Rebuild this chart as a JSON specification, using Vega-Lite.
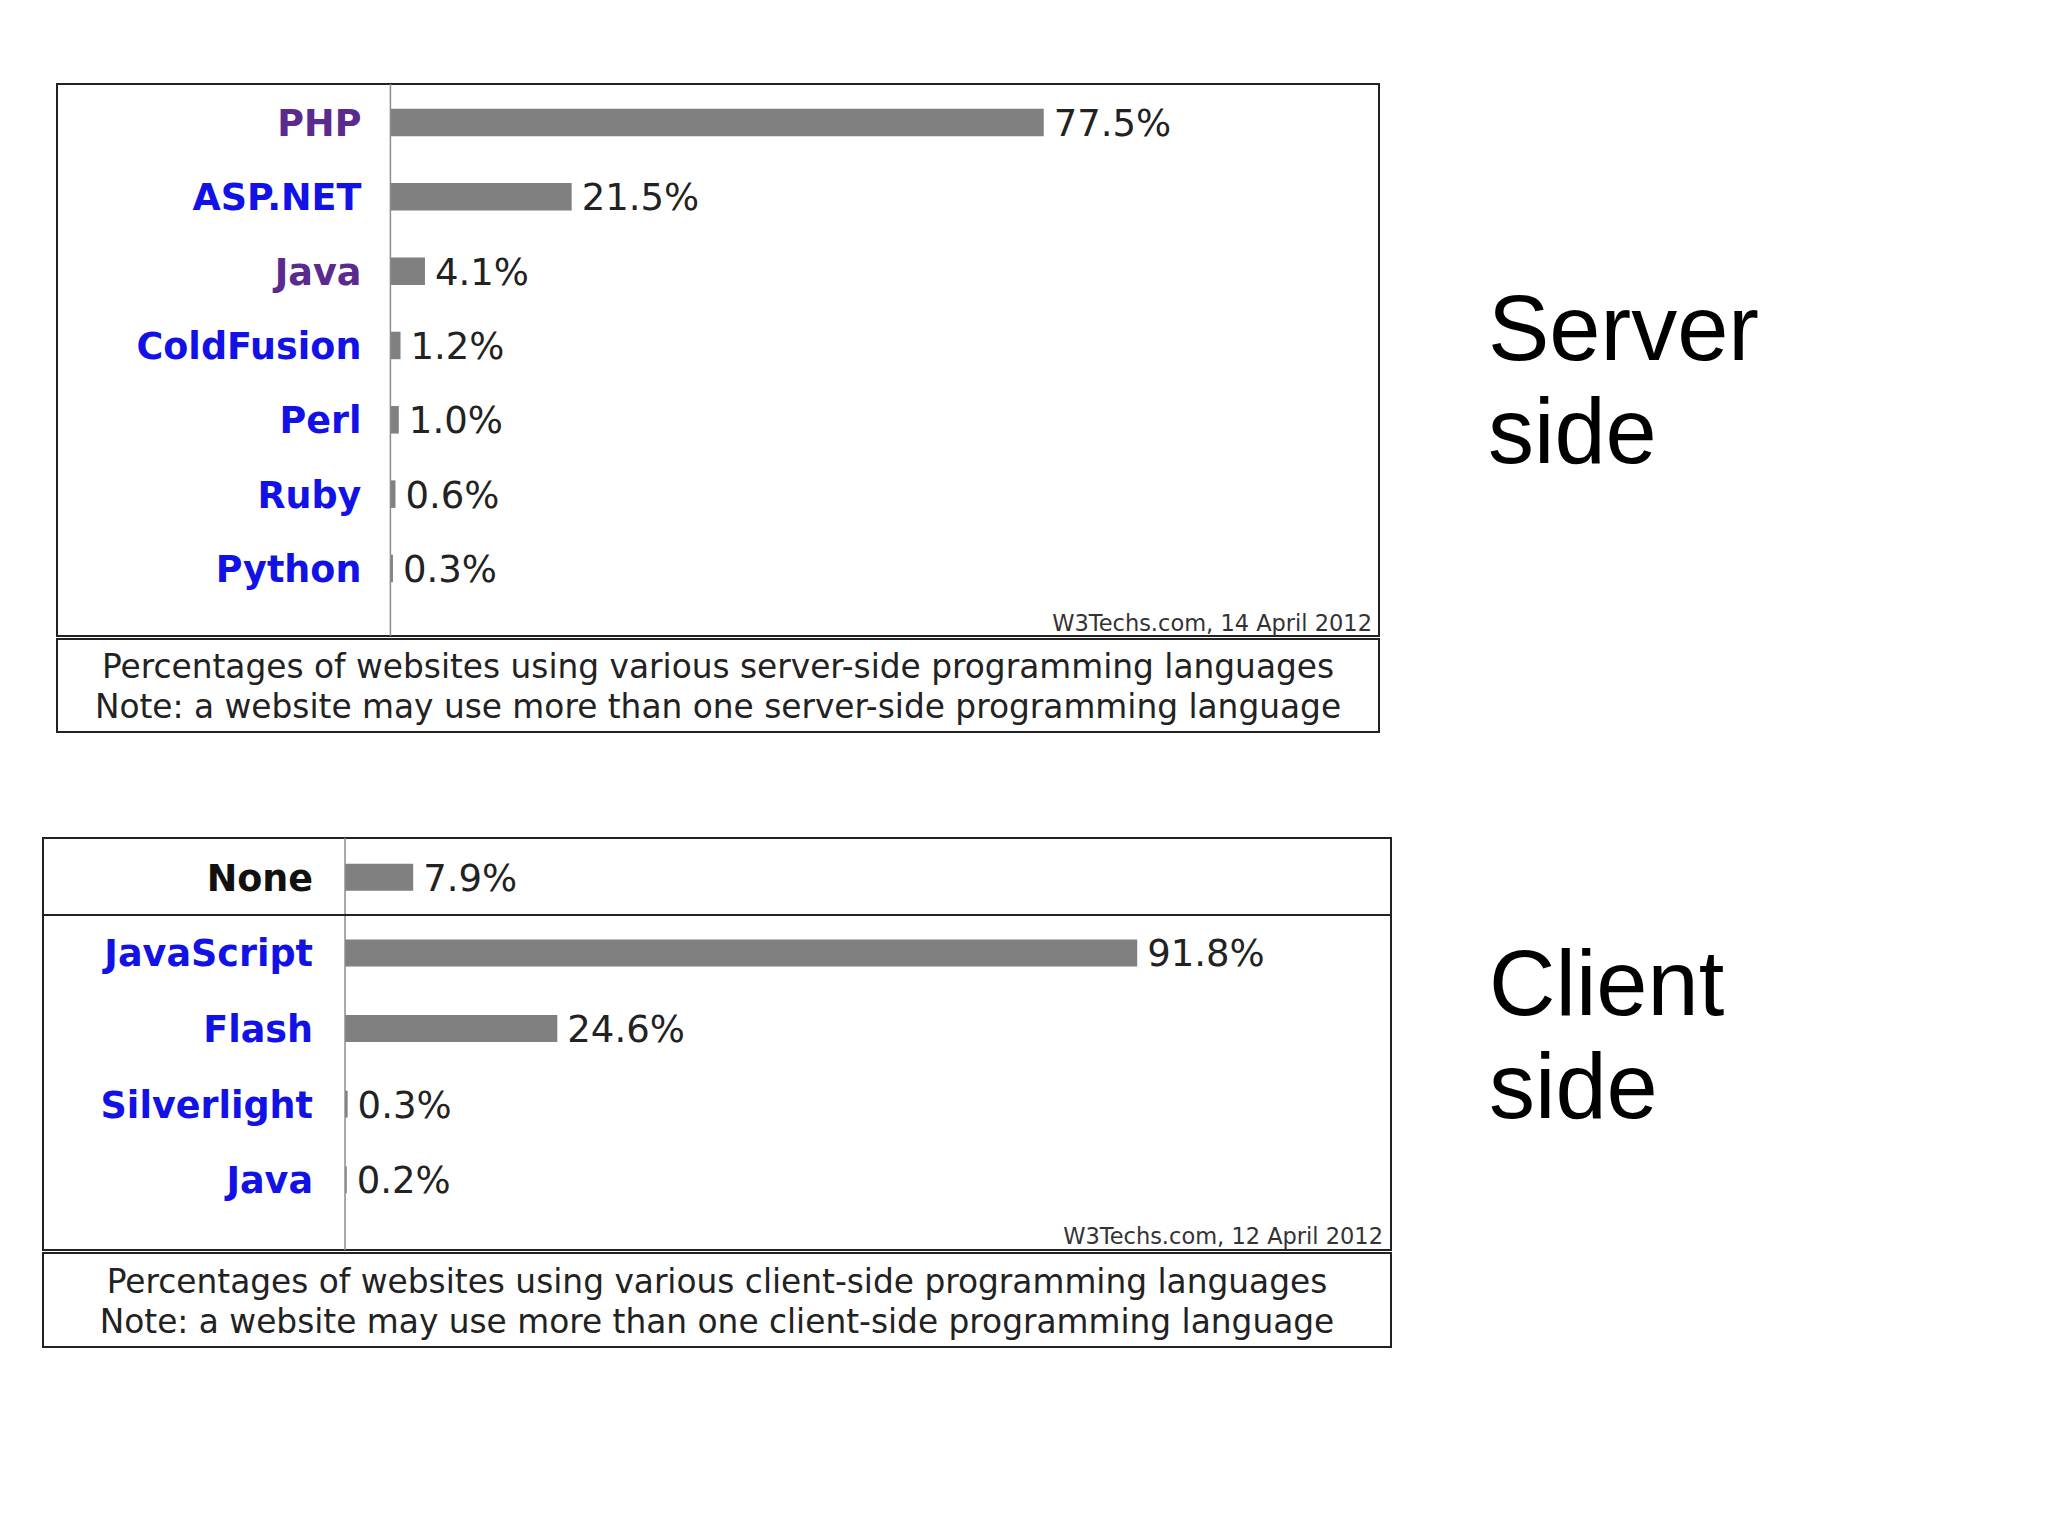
{
  "$schema": "https://vega.github.io/schema/vega-lite/v6.json",
  "background": "white",
  "padding": {"left": 41, "top": 82, "right": 0, "bottom": 0},
  "spacing": 103,
  "config": {
    "view": {"stroke": "#222222", "strokeWidth": 2},
    "font": "DejaVu Sans"
  },
  "vconcat": [
    {
      "spacing": 12,
      "hconcat": [
        {
          "width": 1,
          "height": 1,
          "view": {"stroke": null},
          "data": {"values": []},
          "mark": "text"
        },
        {
          "spacing": 0,
          "vconcat": [
            {
              "width": 1322,
              "height": 552,
              "data": {"values": [
                {"language": "PHP", "share": 0.775},
                {"language": "ASP.NET", "share": 0.215},
                {"language": "Java", "share": 0.041},
                {"language": "ColdFusion", "share": 0.012},
                {"language": "Perl", "share": 0.010},
                {"language": "Ruby", "share": 0.006},
                {"language": "Python", "share": 0.003}
              ]},
              "layer": [
                {
                  "mark": {"type": "bar", "color": "#808080", "height": {"band": 0.37}},
                  "encoding": {
                    "y": {"field": "language", "type": "nominal", "sort": null,
                          "scale": {"paddingInner": 0, "paddingOuter": 0.213, "align": 0.041},
                          "axis": null},
                    "x": {"field": "share", "type": "quantitative",
                          "scale": {"domain": [-0.3955, 1.1727], "nice": false}, "axis": null}
                  }
                },
                {
                  "transform": [{"filter": "datum.language === 'PHP'"}],
                  "mark": {"type": "rule", "color": "#8c8c8c", "strokeWidth": 1.5},
                  "encoding": {"x": {"datum": 0, "type": "quantitative", "axis": null}}
                },
                {
                  "mark": {"type": "text", "align": "left", "baseline": "middle", "dx": 10, "dy": 2.5, "fontSize": 37, "color": "#222222"},
                  "encoding": {
                    "y": {"field": "language", "type": "nominal", "sort": null, "axis": null},
                    "x": {"field": "share", "type": "quantitative", "axis": null},
                    "text": {"field": "share", "type": "quantitative", "format": ".1%"}
                  }
                },
                {
                  "mark": {"type": "text", "align": "right", "baseline": "middle", "dx": -29, "dy": 2.5, "fontSize": 36.5, "fontWeight": "bold"},
                  "encoding": {
                    "y": {"field": "language", "type": "nominal", "sort": null, "axis": null},
                    "x": {"datum": 0, "type": "quantitative", "axis": null},
                    "text": {"field": "language", "type": "nominal"},
                    "color": {"condition": {"test": "datum.language === 'PHP' || datum.language === 'Java'", "value": "#5a2a8e"}, "value": "#1212e6"}
                  }
                },
                {
                  "data": {"values": [{"source": "W3Techs.com, 14 April 2012"}]},
                  "mark": {"type": "text", "align": "right", "baseline": "alphabetic", "dx": -7, "dy": -5, "fontSize": 22.5, "color": "#333333"},
                  "encoding": {"x": {"value": "width"}, "y": {"value": "height"}, "text": {"field": "source", "type": "nominal"}}
                },
                {
                  "data": {"values": [{"side": "Server\nside"}]},
                  "mark": {"type": "text", "align": "left", "baseline": "alphabetic", "dx": 109, "font": "Liberation Sans", "fontSize": 92, "lineHeight": 103, "lineBreak": "\n", "color": "#000000"},
                  "encoding": {"x": {"value": "width"}, "text": {"field": "side", "type": "nominal"}}
                }
              ]
            },
            {
              "width": 1322,
              "height": 93,
              "data": {"values": [
                {"line": "Percentages of websites using various server-side programming languages"},
                {"line": "Note: a website may use more than one server-side programming language"}
              ]},
              "mark": {"type": "text", "align": "center", "baseline": "middle", "dy": 1, "fontSize": 32.8, "color": "#222222"},
              "encoding": {
                "y": {"field": "line", "type": "nominal", "sort": null,
                      "scale": {"type": "band", "paddingInner": 0, "paddingOuter": 0.1625, "align": 0.615},
                      "axis": null},
                "text": {"field": "line", "type": "nominal"}
              }
            }
          ]
        }
      ]
    },
    {
      "spacing": 0,
      "vconcat": [
        {
          "width": 1348,
          "height": 412,
          "data": {"values": [
            {"language": "None", "share": 0.079},
            {"language": "JavaScript", "share": 0.918},
            {"language": "Flash", "share": 0.246},
            {"language": "Silverlight", "share": 0.003},
            {"language": "Java", "share": 0.002}
          ]},
          "layer": [
            {
              "mark": {"type": "bar", "color": "#808080", "height": {"band": 0.357}},
              "encoding": {
                "y": {"field": "language", "type": "nominal", "sort": null,
                      "scale": {"paddingInner": 0, "paddingOuter": 0.2249, "align": 0.044},
                      "axis": null},
                "x": {"field": "share", "type": "quantitative",
                      "scale": {"domain": [-0.35, 1.2121], "nice": false}, "axis": null}
              }
            },
            {
              "transform": [{"filter": "datum.language === 'None'"}],
              "mark": {"type": "rule", "color": "#8c8c8c", "strokeWidth": 1.5},
              "encoding": {"x": {"datum": 0, "type": "quantitative", "axis": null}}
            },
            {
              "transform": [{"filter": "datum.language === 'JavaScript'"}],
              "mark": {"type": "rule", "color": "#222222", "strokeWidth": 2},
              "encoding": {"y": {"field": "language", "type": "nominal", "sort": null, "bandPosition": 0, "axis": null}}
            },
            {
              "mark": {"type": "text", "align": "left", "baseline": "middle", "dx": 10, "dy": 2.5, "fontSize": 37, "color": "#222222"},
              "encoding": {
                "y": {"field": "language", "type": "nominal", "sort": null, "axis": null},
                "x": {"field": "share", "type": "quantitative", "axis": null},
                "text": {"field": "share", "type": "quantitative", "format": ".1%"}
              }
            },
            {
              "mark": {"type": "text", "align": "right", "baseline": "middle", "dx": -32, "dy": 2.5, "fontSize": 36.5, "fontWeight": "bold"},
              "encoding": {
                "y": {"field": "language", "type": "nominal", "sort": null, "axis": null},
                "x": {"datum": 0, "type": "quantitative", "axis": null},
                "text": {"field": "language", "type": "nominal"},
                "color": {"condition": {"test": "datum.language === 'None'", "value": "#111111"}, "value": "#1212e6"}
              }
            },
            {
              "data": {"values": [{"source": "W3Techs.com, 12 April 2012"}]},
              "mark": {"type": "text", "align": "right", "baseline": "alphabetic", "dx": -8, "dy": -6, "fontSize": 22.5, "color": "#333333"},
              "encoding": {"x": {"value": "width"}, "y": {"value": "height"}, "text": {"field": "source", "type": "nominal"}}
            },
            {
              "data": {"values": [{"side": "Client\nside"}]},
              "mark": {"type": "text", "align": "left", "baseline": "alphabetic", "dx": 98, "dy": -29, "font": "Liberation Sans", "fontSize": 92, "lineHeight": 103, "lineBreak": "\n", "color": "#000000"},
              "encoding": {"x": {"value": "width"}, "text": {"field": "side", "type": "nominal"}}
            }
          ]
        },
        {
          "width": 1348,
          "height": 94,
          "data": {"values": [
            {"line": "Percentages of websites using various client-side programming languages"},
            {"line": "Note: a website may use more than one client-side programming language"}
          ]},
          "mark": {"type": "text", "align": "center", "baseline": "middle", "dy": 1, "fontSize": 32.8, "color": "#222222"},
          "encoding": {
            "y": {"field": "line", "type": "nominal", "sort": null,
                  "scale": {"type": "band", "paddingInner": 0, "paddingOuter": 0.175, "align": 0.63},
                  "axis": null},
            "text": {"field": "line", "type": "nominal"}
          }
        }
      ]
    }
  ]
}
